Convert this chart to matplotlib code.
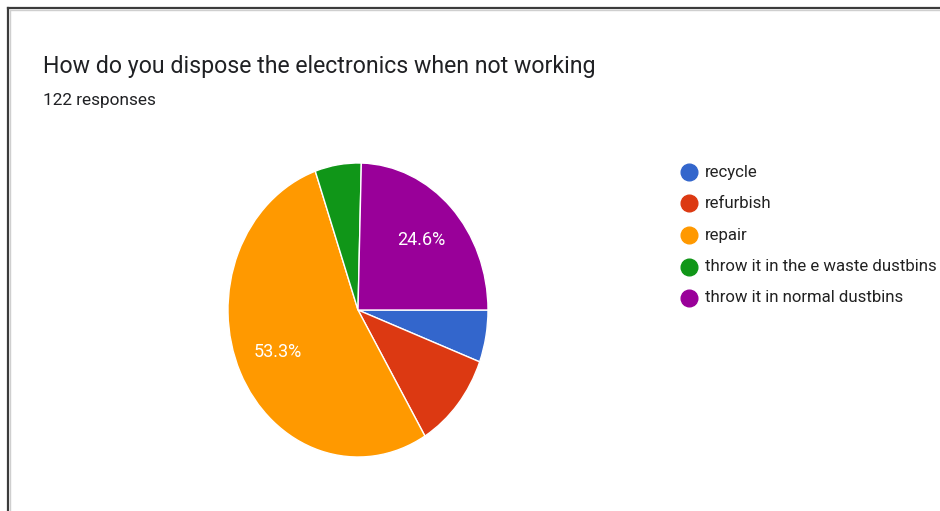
import matplotlib.pyplot as plt
from matplotlib.lines import Line2D

plt.rcParams['font.family'] = ['Roboto', 'DejaVu Sans']

# Survey answers (122 responses)
labels = ['recycle', 'refurbish', 'repair', 'throw it in the e waste dustbins',
          'throw it in normal dustbins']
counts = [7, 13, 65, 7, 30]
colors = ['#3366cc', '#dc3912', '#ff9900', '#109618', '#990099']

total = sum(counts)
W, H = 940, 511

fig = plt.figure(figsize=(W / 100, H / 100), dpi=100)
fig.patch.set_facecolor('white')

# pie box in pixels: left, top, width, height
px_l, px_t, px_w, px_h = 228, 163, 260, 294
ax = fig.add_axes([px_l / W, 1 - (px_t + px_h) / H, px_w / W, px_h / H])


def show_pct(p):
    return f'{p:.1f}%' if p > 15 else ''


# first slice starts at 3 o'clock, slices run clockwise
wedges, _, pcts = ax.pie(counts, colors=colors, startangle=0, counterclock=False,
                         autopct=show_pct, pctdistance=0.68,
                         wedgeprops=dict(edgecolor='white', linewidth=1),
                         textprops=dict(color='white', fontsize=13))
ax.set_aspect('auto')
ax.set_xlim(-1.0, 1.0)
ax.set_ylim(-1.0, 1.0)
ax.axis('off')

# title block
fig.text(43 / W, 1 - 66 / H, 'How do you dispose the electronics when not working',
         fontsize=16.7, color='#202124', va='center', ha='left')
fig.text(43 / W, 1 - 100 / H, f'{total} responses', fontsize=12.4,
         color='#202124', va='center', ha='left')

# legend
for i, (lab, col) in enumerate(zip(labels, colors)):
    y = 1 - (172 + i * 31.5) / H
    fig.add_artist(Line2D([689 / W], [y], transform=fig.transFigure, marker='o',
                          markersize=12, color=col, linestyle=''))
    fig.text(705 / W, y, lab, fontsize=12.1, color='#222222', va='center', ha='left')

# card border (left and top edges)
fig.add_artist(Line2D([8 / W, 8 / W], [0, 1 - 8 / H], transform=fig.transFigure,
                      color='#3c3c3c', linewidth=1.6))
fig.add_artist(Line2D([8 / W, 1], [1 - 8 / H, 1 - 8 / H], transform=fig.transFigure,
                      color='#3c3c3c', linewidth=1.6))
fig.add_artist(Line2D([10 / W, 1], [1 - 10 / H, 1 - 10 / H], transform=fig.transFigure,
                      color='#cfcfcf', linewidth=1))
fig.add_artist(Line2D([10 / W, 10 / W], [0, 1 - 10 / H], transform=fig.transFigure,
                      color='#cfcfcf', linewidth=1))

fig.savefig('out.png', dpi=100)
